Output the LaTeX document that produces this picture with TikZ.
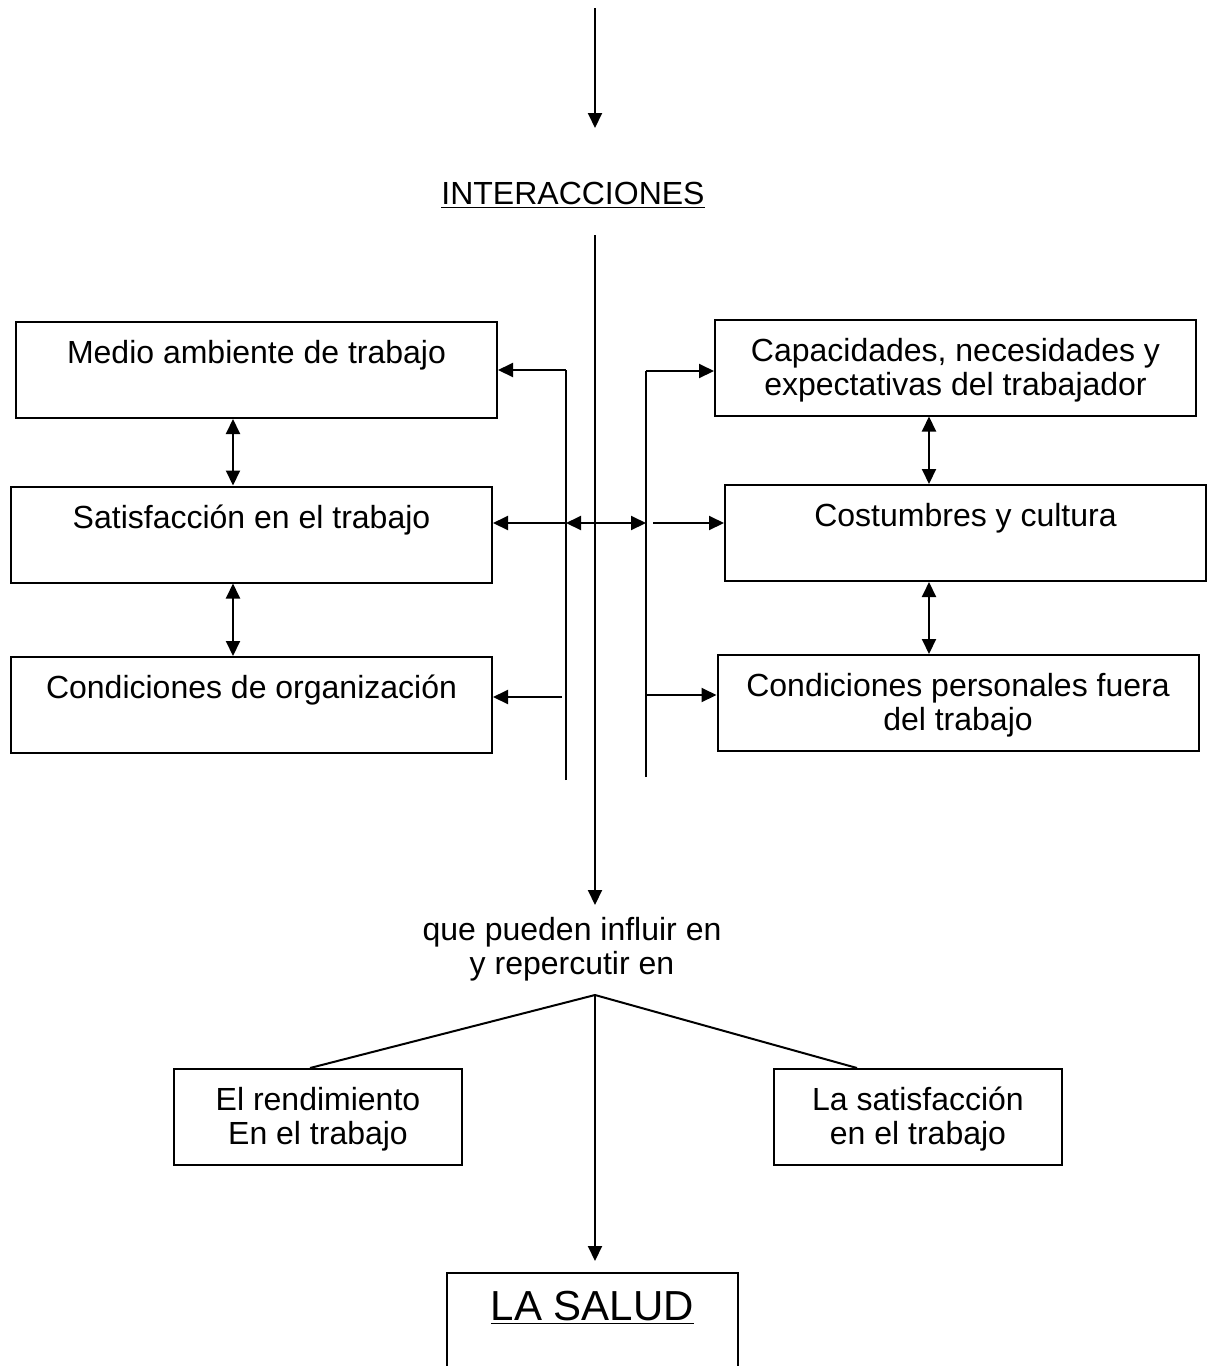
\documentclass[tikz,border=0pt]{standalone}
\usepackage{fontspec}
\setmainfont{Liberation Sans}
\usetikzlibrary{arrows.meta,positioning}

\begin{document}
\begin{tikzpicture}[x=0.5pt,y=-0.5pt,line width=1pt,
    box/.style={draw,minimum width=240.5pt,inner xsep=0pt,inner ysep=8.75pt,
                text height=12pt,text depth=18.5pt,align=center,
                font=\fontsize{16}{17}\selectfont},
    twobox/.style={box,text height=29pt,text depth=1.5pt},
    smallbox/.style={twobox,minimum width=144pt},
    saludbox/.style={minimum width=144.5pt,inner ysep=8pt,text height=15pt,
                text depth=15pt,font=\fontsize{21}{23}\selectfont},
    lbl/.style={align=center,font=\fontsize{16}{17}\selectfont},
    arr/.style={-{Triangle[length=7.5pt,width=7pt]}},
    dbl/.style={{Triangle[length=7.5pt,width=7pt]}-{Triangle[length=7.5pt,width=7pt]}},
  ]
  \useasboundingbox (0,0) rectangle (1208,1366);

  % left column
  \node[box] (medio)   at (256.5,370) {Medio ambiente de trabajo};
  \node[box] (satis)   at (251.5,534.5) {Satisfacción en el trabajo};
  \node[box] (condorg) at (251.5,705) {Condiciones de organización};
  % right column
  \node[twobox] (capac)    at (955.5,367.5) {Capacidades, necesidades y\\expectativas del trabajador};
  \node[box]    (costum)   at (965.5,533) {Costumbres y cultura};
  \node[twobox] (condpers) at (958,703) {Condiciones personales fuera\\del trabajo};

  \node[lbl] (interac) at (573,195) {\underline{INTERACCIONES}};
  \node[lbl] (influir) at (572,949) {que pueden influir en\\y repercutir en};

  \node[smallbox] (rend)    at (318,1117) {El rendimiento\\En el trabajo};
  \node[smallbox] (lasatis) at (918,1117) {La satisfacción\\en el trabajo};
  \node[saludbox] (salud)   at (592.5,1320) {\underline{LA SALUD}};
  \draw (salud.south west) -- (salud.north west) -- (salud.north east) -- (salud.south east);

  \coordinate (topa)  at (595,8);
  \coordinate (topb)  at (595,128);
  \coordinate (ctop)  at (595,235);
  \coordinate (cbot)  at (595,905);
  \coordinate (apex)  at (595,995);
  \coordinate (lvtop) at (566,370);
  \coordinate (lvmid) at (566,523);
  \coordinate (lvlow) at (562,697);
  \coordinate (lvbot) at (566,780);
  \coordinate (rvtop) at (646,371);
  \coordinate (rvmid) at (646,523);
  \coordinate (rvlow) at (646,695);
  \coordinate (rvbot) at (646,777);
  \coordinate (lcol)  at (233,0);
  \coordinate (rcol)  at (929,0);

  \draw[arr] (topa) -- (topb);
  \draw[arr] (ctop) -- (cbot);

  \draw (lvbot) -- (lvtop);
  \draw[arr] (lvtop) -- (lvtop -| medio.east);
  \draw[arr] (lvmid) -- (lvmid -| satis.east);
  \draw[arr] (lvlow) -- (lvlow -| condorg.east);
  \draw[dbl] (lvmid) -- (rvmid);
  \draw (rvbot) -- (rvtop);
  \draw[arr] (rvtop) -- (rvtop -| capac.west);
  \draw[arr] ([xshift=3.5pt]rvmid) -- (rvmid -| costum.west);
  \draw[arr] (rvlow) -- (rvlow -| condpers.west);

  \draw[dbl] (medio.south -| lcol) -- (satis.north -| lcol);
  \draw[dbl] (satis.south -| lcol) -- (condorg.north -| lcol);
  \draw[dbl] (capac.south -| rcol) -- (costum.north -| rcol);
  \draw[dbl] (costum.south -| rcol) -- (condpers.north -| rcol);

  \draw (apex) -- ([xshift=-4pt]rend.north);
  \draw (apex) -- ([xshift=-30.5pt]lasatis.north);
  \draw[arr] (apex) -- ([yshift=6pt]apex |- salud.north);
\end{tikzpicture}
\end{document}
